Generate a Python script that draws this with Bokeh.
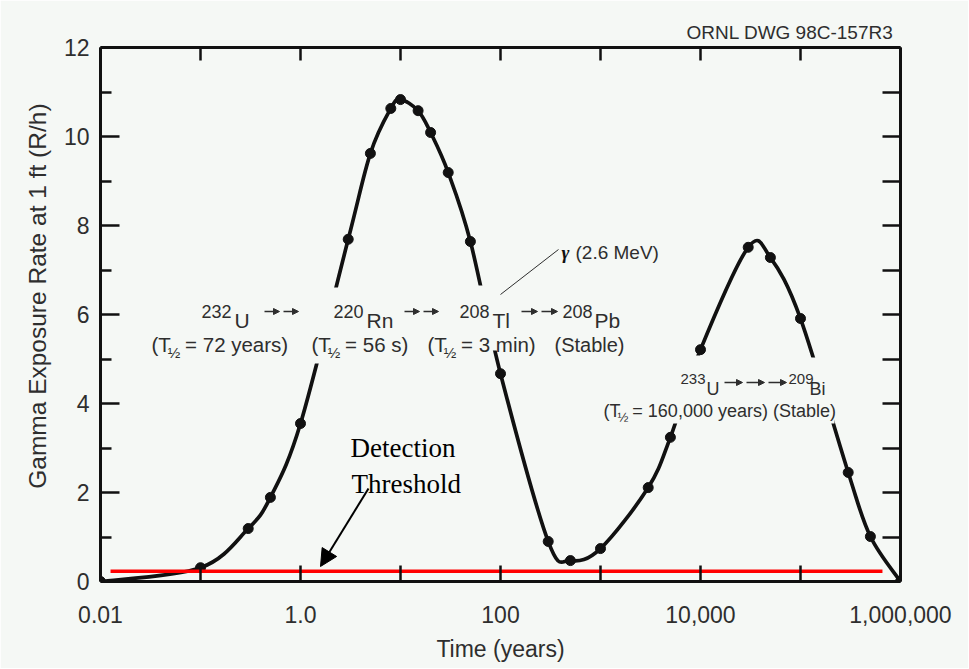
import numpy as np
from bokeh.plotting import figure
from bokeh.models import (Range1d, FixedTicker, LogAxis, LinearAxis, Label,
                          Arrow, NormalHead, BoxAnnotation)
from bokeh.embed import file_html
from bokeh.resources import INLINE

# ---------------- data ----------------
time_years = [0.01, 0.1, 0.3, 0.5, 1.0, 3.0, 5.0, 8.0, 10.0, 15.0, 20.0, 30.0,
              50.0, 100.0, 300.0, 500.0, 1000.0, 3000.0, 5000.0, 10000.0,
              30000.0, 50000.0, 100000.0, 300000.0, 500000.0, 1000000.0]
exposure_rate = [0.0, 0.31, 1.19, 1.89, 3.55, 7.69, 9.62, 10.63, 10.83, 10.58,
                 10.09, 9.19, 7.64, 4.67, 0.90, 0.47, 0.74, 2.11, 3.24, 5.21,
                 7.51, 7.28, 5.91, 2.45, 1.01, 0.0]
threshold_time = [0.0126, 660000.0]
threshold_rate = [0.23, 0.23]

x_major_ticks = [0.01, 1, 100, 10000, 1000000]
x_major_labels = ["0.01", "1.0", "100", "10,000", "1,000,000"]
x_minor_ticks = [0.1, 10, 1000, 100000]
y_major_ticks = [0, 2, 4, 6, 8, 10, 12]
y_minor_ticks = [1, 3, 5, 7, 9, 11]
y_all_ticks = list(range(0, 13))

# ---------------- style ----------------
BG = "#f5f8f5"
INK = "#111111"
TXT = "#2e2e2e"
SANS = "Liberation Sans"
SERIF = "Liberation Serif"
NBSP = "\u00a0"

W, H = 968, 668
FL, FT, FW, FH = 100, 47, 800, 534   # plot frame inside the canvas


def X(px):
    """pixel column -> time (years)"""
    return 10 ** ((px - FL) / 100.0 - 2)


def Y(py):
    """pixel row -> exposure rate"""
    return (FT + FH - py) * 12.0 / FH


p = figure(width=W, height=H, x_axis_type="log",
           x_range=Range1d(0.01, 1e6), y_range=Range1d(0, 12),
           output_backend="svg", toolbar_location=None,
           min_border_left=FL, min_border_top=FT,
           min_border_right=W - FL - FW, min_border_bottom=H - FT - FH)
p.background_fill_color = BG
p.border_fill_color = BG
p.outline_line_color = None
p.xgrid.visible = False
p.ygrid.visible = False

# drawing number, top right
p.title.text = "ORNL DWG 98C-157R3"
p.title.align = "right"
p.title.text_font = SANS
p.title.text_font_size = "19px"
p.title.text_font_style = "normal"
p.title.text_color = TXT
p.title.standoff = 10
p.title.offset = 7

# bottom axis
xa = p.xaxis[0]
xa.ticker = FixedTicker(ticks=x_major_ticks, minor_ticks=x_minor_ticks)
xa.major_label_overrides = dict(zip(x_major_ticks, x_major_labels))
xa.major_tick_in, xa.major_tick_out = 16, 0
xa.minor_tick_in, xa.minor_tick_out = 16, 0
xa.axis_label = "Time (years)"

# left axis (leading em/en spaces lift the title a little above the centre)
ya = p.yaxis[0]
ya.ticker = FixedTicker(ticks=y_major_ticks, minor_ticks=y_minor_ticks)
ya.major_tick_in, ya.major_tick_out = 19, 0
ya.minor_tick_in, ya.minor_tick_out = 11, 0
ya.axis_label = "\u2003\u2002Gamma Exposure Rate at 1 ft (R/h)"

# top & right frame axes (ticks only)
top = LogAxis(ticker=FixedTicker(ticks=x_major_ticks + x_minor_ticks))
top.major_tick_in, top.major_tick_out = 13, 0
top.minor_tick_line_color = None
top.major_label_text_color = None
top.major_label_text_font_size = "6px"
top.major_label_standoff = 0
p.add_layout(top, "above")

right = LinearAxis(ticker=FixedTicker(ticks=y_all_ticks))
right.major_tick_in, right.major_tick_out = 18, 0
right.minor_tick_line_color = None
right.major_label_text_color = None
right.major_label_text_font_size = "6px"
right.major_label_standoff = 0
p.add_layout(right, "right")

for ax in (xa, ya, top, right):
    ax.axis_line_width = 3
    ax.axis_line_color = INK
    ax.major_tick_line_width = 2.5
    ax.major_tick_line_color = INK
    ax.minor_tick_line_width = 2.5
    if ax in (xa, ya):
        ax.minor_tick_line_color = INK
        ax.major_label_text_color = TXT
    ax.major_label_text_font = SANS
    ax.axis_label_text_font = SANS
    ax.axis_label_text_font_style = "normal"
    ax.axis_label_text_color = TXT

xa.major_label_text_font_size = "23px"
ya.major_label_text_font_size = "23px"
xa.axis_label_text_font_size = "23px"
ya.axis_label_text_font_size = "24.5px"
xa.major_label_standoff = 24
xa.axis_label_standoff = 10
ya.major_label_standoff = 11
ya.axis_label_standoff = 10

# ---------------- smooth curve (Catmull-Rom -> cubic Bezier in log space) ----
lx = np.log10(np.array(time_years))
yy = np.array(exposure_rate)
n = len(lx)
i0 = np.arange(n - 1)
im = np.clip(i0 - 1, 0, n - 1)
i1 = i0 + 1
i2 = np.clip(i0 + 2, 0, n - 1)
c1x = lx[i0] + (lx[i1] - lx[im]) / 6.0
c1y = yy[i0] + (yy[i1] - yy[im]) / 6.0
c2x = lx[i1] - (lx[i2] - lx[i0]) / 6.0
c2y = yy[i1] - (yy[i2] - yy[i0]) / 6.0
p.bezier(x0=10 ** lx[i0], y0=yy[i0], x1=10 ** lx[i1], y1=yy[i1],
         cx0=10 ** c1x, cy0=c1y, cx1=10 ** c2x, cy1=c2y,
         line_color=INK, line_width=3.7)
p.scatter(time_years, exposure_rate, size=10, marker="circle",
          fill_color=INK, line_color=INK)

# detection threshold
p.line(threshold_time, threshold_rate, line_color="#ff0000", line_width=3.5)

# ---------------- masks where the labels interrupt the curve ----------------
for (l, r, t, b) in [(310, 346, 287, 363), (474, 502, 285, 350),
                     (664, 705, 355, 423), (803, 834, 357, 423)]:
    p.add_layout(BoxAnnotation(left=X(l), right=X(r), top=Y(t), bottom=Y(b),
                               fill_color=BG, fill_alpha=1.0, line_color=None))


def lab(px, py, text, size, align="left", font=SANS, style="normal", color=TXT):
    p.add_layout(Label(x=X(px), y=Y(py), text=text, text_font=font,
                       text_font_size=f"{size}px", text_font_style=style,
                       text_color=color, text_align=align,
                       text_baseline="alphabetic"))


def decay_arrows(a, b, py, k):
    step = (b - a) / k
    for j in range(k):
        s = a + j * step
        p.add_layout(Arrow(x_start=X(s + 1), y_start=Y(py), x_end=X(s + step - 3),
                           y_end=Y(py), line_width=1.6, line_color=TXT,
                           end=NormalHead(size=6, fill_color=TXT, line_color=TXT)))


def half_life(px, py, rest, size, sub):
    lab(px, py, "(T", size)
    xs = px + 0.944 * size
    lab(xs - 3, py + 0.55 * sub, "½", sub)
    lab(xs - 4 + 0.834 * sub, py, NBSP + rest, size)


# thorium chain (232U)
lab(231, 311, "232", 18, align="right")
lab(234, 320, "U", 21)
decay_arrows(263, 301, 311, 2)
lab(363, 311, "220", 18, align="right")
lab(366, 320, "Rn", 21)
decay_arrows(403, 441, 311, 2)
lab(489, 311, "208", 18, align="right")
lab(492, 320, "Tl", 21)
decay_arrows(520, 560, 311, 2)
lab(592, 311, "208", 18, align="right")
lab(594, 320, "Pb", 21)
half_life(151, 344, "= 72 years)", 20.5, 15)
half_life(311, 344, "= 56 s)", 20.5, 15)
half_life(427, 344, "= 3 min)", 20.5, 15)
lab(554, 344, "(Stable)", 20)

# gamma line
lab(561, 252, "γ", 19, font=SERIF, style="bold italic", color=INK)
lab(575, 252, "(2.6 MeV)", 19)
p.add_layout(Arrow(x_start=X(500), y_start=Y(294), x_end=X(558), y_end=Y(249),
                   line_width=1, line_color=TXT, end=None))

# 233U chain
lab(705, 378, "233", 15, align="right")
lab(706, 388, "U", 18)
decay_arrows(723, 789, 382, 3)
lab(788, 378, "209", 15)
lab(809, 388, "Bi", 18)
half_life(603, 410, "= 160,000 years) (Stable)", 18, 13)

# detection threshold label
lab(350, 447, "Detection", 27, font=SERIF, color="#000000")
lab(351, 483, "Threshold", 27, font=SERIF, color="#000000")
p.add_layout(Arrow(x_start=X(368), y_start=Y(488), x_end=X(320), y_end=Y(566),
                   line_width=2, line_color="#000000",
                   end=NormalHead(size=17, fill_color="#000000",
                                  line_color="#000000")))

open("out.html", "w").write(file_html(p, INLINE))
